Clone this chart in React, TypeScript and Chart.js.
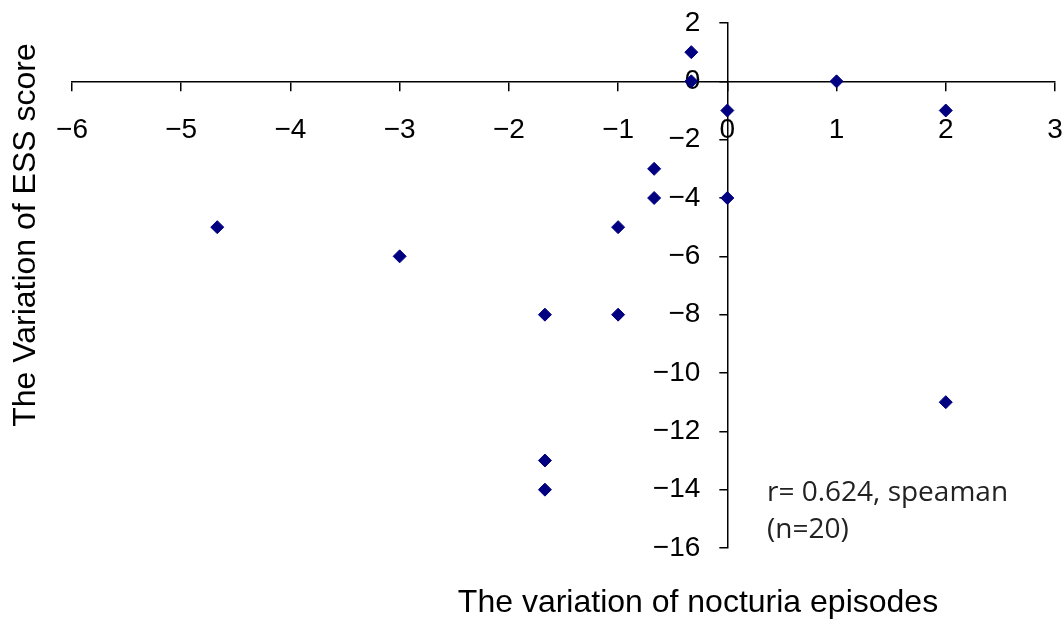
import React, { useEffect, useRef } from "react";
import { Chart, registerables } from "chart.js";

Chart.register(...registerables);

// Data (variation of nocturia episodes vs variation of ESS score)
const nocturiaVariation: number[] = [-0.33, -0.33, 0, 1, 2, -0.67, -0.67, 0, -1, -1.67, -1, -1.67, -1.67, 2, -4.67, -3];
const essVariation: number[] = [1, 0, -1, 0, -1, -3, -4, -4, -5, -8, -8, -13, -14, -11, -5, -6];

const xTickMin = -6;
const xTickMax = 3;
const yTickMin = -16;
const yTickMax = 2;

const xTitle = "The variation of nocturia episodes";
const yTitle = "The Variation of ESS score";
const noteLines: string[] = ["r= 0.624, speaman", "(n=20)"];

const W = 1063;
const H = 622;

const fmt = (v: number | string) => String(v).replace("-", "\u2212");

// Move the axes so they cross at (0, 0), as in the reference
const crossAxesPlugin = {
  id: "crossAxesPlugin",
  afterLayout(chart: any) {
    const xs = chart.scales.x;
    const ys = chart.scales.y;
    const px0 = xs.getPixelForValue(0);
    const py0 = ys.getPixelForValue(0);
    ys.left = 0;
    ys.right = px0;
    ys.width = px0;
    xs.top = py0;
    xs.bottom = chart.height;
    xs.height = chart.height - py0;
  },
};

const titlesPlugin = {
  id: "titlesPlugin",
  afterDraw(chart: any) {
    const ctx = chart.ctx as CanvasRenderingContext2D;
    ctx.save();
    ctx.fillStyle = "#000";
    ctx.font = "32px 'Liberation Sans', Arial, sans-serif";
    ctx.textAlign = "center";
    ctx.textBaseline = "alphabetic";
    ctx.fillText(xTitle, 698, 612);
    ctx.save();
    ctx.translate(35, 235);
    ctx.rotate(-Math.PI / 2);
    ctx.fillText(yTitle, 0, 0);
    ctx.restore();
    ctx.font = "28px 'Open Sans', 'Noto Sans', sans-serif";
    ctx.fillStyle = "#222";
    ctx.textAlign = "left";
    ctx.fillText(noteLines[0], 767, 501);
    ctx.fillText(noteLines[1], 767, 538);
    ctx.restore();
  },
};

const zeroPadding = (s: any) => {
  s.paddingLeft = 0;
  s.paddingRight = 0;
  s.paddingTop = 0;
  s.paddingBottom = 0;
};

export default function App() {
  const ref = useRef<HTMLCanvasElement | null>(null);
  useEffect(() => {
    if (!ref.current) return;
    const points = nocturiaVariation.map((x, i) => ({ x, y: essVariation[i] }));
    const tickFont = { family: "'Liberation Sans', Arial, sans-serif", size: 28 };
    const chart = new Chart(ref.current, {
      type: "scatter",
      data: {
        datasets: [
          {
            data: points,
            pointStyle: "rectRot",
            pointRadius: 6.5,
            pointHoverRadius: 6.5,
            backgroundColor: "#000080",
            borderColor: "#000080",
            borderWidth: 1,
          },
        ],
      },
      options: {
        animation: false,
        responsive: false,
        devicePixelRatio: 1,
        layout: { padding: { left: 72, right: 8, top: 23, bottom: 74 } },
        plugins: { legend: { display: false }, tooltip: { enabled: false } },
        scales: {
          x: {
            type: "linear",
            position: "bottom",
            min: xTickMin,
            max: xTickMax,
            ticks: {
              stepSize: 1,
              color: "#000",
              font: tickFont,
              padding: 22,
              maxRotation: 0,
              autoSkip: false,
              callback: (v: any) => fmt(v),
            },
            grid: { display: true, drawOnChartArea: false, drawTicks: true, tickLength: 10, color: "#000", lineWidth: 1.5 },
            border: { display: true, color: "#000", width: 1.5 },
            afterFit: (s: any) => {
              s.height = 0;
              zeroPadding(s);
            },
          },
          y: {
            type: "linear",
            position: "left",
            min: yTickMin,
            max: yTickMax,
            ticks: {
              stepSize: 2,
              color: "#000",
              font: tickFont,
              padding: 19,
              autoSkip: false,
              callback: (v: any) => fmt(v),
            },
            grid: { display: true, drawOnChartArea: false, drawTicks: true, tickLength: 8, color: "#000", lineWidth: 1.5 },
            border: { display: true, color: "#000", width: 1.5 },
            afterFit: (s: any) => {
              s.width = 0;
              zeroPadding(s);
            },
          },
        },
      },
      plugins: [crossAxesPlugin, titlesPlugin],
    });
    return () => chart.destroy();
  }, []);
  return (
    <div style={{ position: "absolute", left: 0, top: 0, width: W, height: H, background: "#fff" }}>
      <canvas ref={ref} width={W} height={H} style={{ display: "block" }} />
    </div>
  );
}
